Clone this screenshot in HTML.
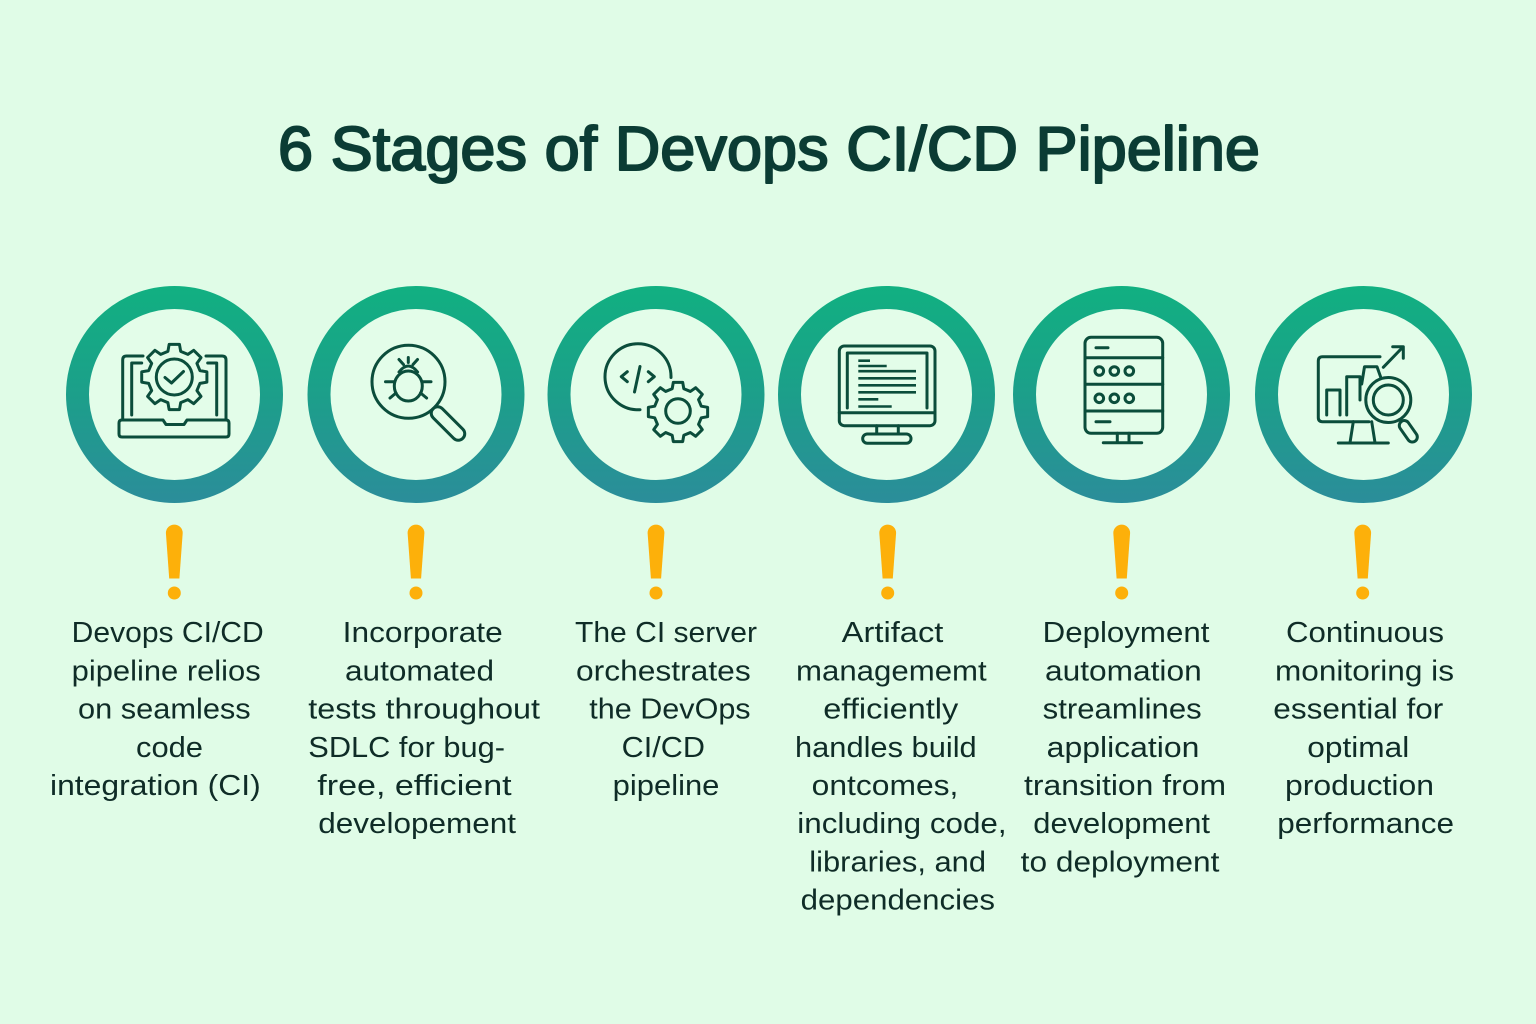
<!DOCTYPE html>
<html>
<head>
<meta charset="utf-8">
<style>
  html,body{margin:0;padding:0;background:#e0fce7;}
  body{width:1536px;height:1024px;overflow:hidden;}
  svg{display:block;}
  .t{font-family:"Liberation Sans",Arial,sans-serif;font-size:28.5px;fill:#0f2c27;}
</style>
</head>
<body>
<svg width="1536" height="1024" viewBox="0 0 1536 1024" xmlns="http://www.w3.org/2000/svg">
  <defs>
    <linearGradient id="rg" gradientUnits="userSpaceOnUse" x1="0" y1="286" x2="0" y2="503">
      <stop offset="0" stop-color="#11b081"/>
      <stop offset="0.5" stop-color="#1c9f8a"/>
      <stop offset="1" stop-color="#2b8d9a"/>
    </linearGradient>
    <path id="gear" d="M-5.81,-23.29 L-4.69,-29.63 L4.69,-29.63 L5.81,-23.29 L12.36,-20.57 L17.63,-24.27 L24.27,-17.63 L20.57,-12.36 L23.29,-5.81 L29.63,-4.69 L29.63,4.69 L23.29,5.81 L20.57,12.36 L24.27,17.63 L17.63,24.27 L12.36,20.57 L5.81,23.29 L4.69,29.63 L-4.69,29.63 L-5.81,23.29 L-12.36,20.57 L-17.63,24.27 L-24.27,17.63 L-20.57,12.36 L-23.29,5.81 L-29.63,4.69 L-29.63,-4.69 L-23.29,-5.81 L-20.57,-12.36 L-24.27,-17.63 L-17.63,-24.27 L-12.36,-20.57 Z"/>
  </defs>

  <rect width="1536" height="1024" fill="#e0fce7"/>

  <!-- Title -->
  <text x="769" y="170" text-anchor="middle" font-family="'Liberation Sans',Arial,sans-serif" font-size="62" font-weight="normal" fill="#0b3c34" stroke="#0b3c34" stroke-width="2" stroke-linejoin="round" textLength="982" lengthAdjust="spacingAndGlyphs">6 Stages of Devops CI/CD Pipeline</text>

  <!-- Rings -->
  <g fill="#e3fde9" stroke="url(#rg)" stroke-width="23">
    <circle cx="174.5" cy="394.5" r="97"/>
    <circle cx="416" cy="394.5" r="97"/>
    <circle cx="656" cy="394.5" r="97"/>
    <circle cx="886.5" cy="394.5" r="97"/>
    <circle cx="1121.5" cy="394.5" r="97"/>
    <circle cx="1363.5" cy="394.5" r="97"/>
  </g>

  <!-- Icons -->
  <g stroke="#0b4d3b" stroke-width="3" fill="none" stroke-linecap="round" stroke-linejoin="round">
    <!-- Icon 1: laptop with gear -->
    <path d="M143,356 L126.5,356 Q122.7,356 122.7,360 L122.7,420"/>
    <path d="M206,356 L222,356 Q226,356 226,360 L226,420"/>
    <path d="M141.7,363 L131.7,363 L131.7,415"/>
    <path d="M207.7,363 L216.7,363 L216.7,415"/>
    <path d="M122,420 L163,420 L166,424.5 L184,424.5 L187,420 L226,420 Q229,420 229,423 L229,434 Q229,437 226,437 L122,437 Q119,437 119,434 L119,423 Q119,420 122,420 Z"/>
    <g transform="translate(174.3,377) scale(1.1)"><use href="#gear" vector-effect="non-scaling-stroke" style="stroke-width:2.7px"/></g>
    <circle cx="174.3" cy="377" r="18"/>
    <polyline points="165,377.5 171.5,383 183.5,371.5"/>

    <!-- Icon 2: magnifier with bug -->
    <circle cx="408.5" cy="381.7" r="36.5"/>
    <rect x="-21" y="-6.5" width="42" height="13" rx="6.5" transform="translate(448,423.5) rotate(45)"/>
    <ellipse cx="408.3" cy="386" rx="14" ry="15"/>
    <path d="M399,372 Q408.3,360 417.6,372"/>
    <path d="M403.5,364.5 L399,359.5 M413,364.5 L417.5,359.5 M408.3,362.5 L408.3,357.5"/>
    <path d="M394,381.7 L385.5,381.7 M422.6,381.7 L431,381.7 M396,393 L390,398 M420.6,393 L426.6,398"/>

    <!-- Icon 3: code + gear -->
    <path d="M671,377.5 A33 33 0 1 0 640,409.7"/>
    <polyline points="627.3,371.7 621.3,376.7 627.3,381.7"/>
    <line x1="640" y1="366.5" x2="634.5" y2="392"/>
    <polyline points="648.3,371.7 654.3,376.7 648.3,381.7"/>
    <g transform="translate(678,412)"><use href="#gear"/></g>
    <circle cx="678" cy="411" r="12.3"/>

    <!-- Icon 4: monitor with text -->
    <rect x="839.3" y="346" width="95.7" height="79.7" rx="5"/>
    <path d="M847.3,408 L847.3,353 L927,353 L927,408"/>
    <line x1="839.3" y1="412.7" x2="935" y2="412.7"/>
    <g stroke-width="2.6" stroke-linecap="butt">
      <line x1="858.3" y1="360.7" x2="870" y2="360.7"/>
      <line x1="858.3" y1="366" x2="886.7" y2="366"/>
      <line x1="858.3" y1="371.2" x2="916" y2="371.2"/>
      <line x1="858.3" y1="378.3" x2="916" y2="378.3"/>
      <line x1="858.3" y1="385.3" x2="916" y2="385.3"/>
      <line x1="858.3" y1="392.3" x2="916" y2="392.3"/>
      <line x1="858.3" y1="399.3" x2="878.3" y2="399.3"/>
      <line x1="858.3" y1="406.5" x2="891.7" y2="406.5"/>
    </g>
    <path d="M876.7,425.7 L876.7,434 M898.3,425.7 L898.3,434"/>
    <rect x="862.7" y="434" width="48.3" height="9.3" rx="4.6"/>

    <!-- Icon 5: server -->
    <rect x="1085" y="337.3" width="77.7" height="96" rx="6"/>
    <path d="M1085,357.7 L1162.7,357.7 M1085,384.3 L1162.7,384.3 M1085,411 L1162.7,411"/>
    <path d="M1096,347.7 L1108,347.7 M1096,421.7 L1110,421.7"/>
    <circle cx="1099.3" cy="371" r="4.3"/>
    <circle cx="1114.3" cy="371" r="4.3"/>
    <circle cx="1129.3" cy="371" r="4.3"/>
    <circle cx="1099.3" cy="398.3" r="4.3"/>
    <circle cx="1114.3" cy="398.3" r="4.3"/>
    <circle cx="1129.3" cy="398.3" r="4.3"/>
    <path d="M1117.3,433.3 L1117.3,442.7 M1129,433.3 L1129,442.7 M1103.3,442.7 L1141.7,442.7"/>

    <!-- Icon 6: analytics monitor with magnifier -->
    <path d="M1380,356.7 L1322.5,356.7 Q1318.3,356.7 1318.3,361 L1318.3,417.5 Q1318.3,421.7 1322.5,421.7 L1369,421.7"/>
    <path d="M1326.7,415 L1326.7,390 L1340,390 L1340,415"/>
    <path d="M1346.7,415 L1346.7,376.7 L1360,376.7 L1360,400"/>
    <path d="M1361.7,384 L1364.5,366.7 L1377,366.7 L1381,378"/>
    <path d="M1383.3,367.3 L1401.7,348.3"/>
    <polyline points="1392.7,346.7 1403.3,346.7 1403.3,358.3"/>
    <circle cx="1388.3" cy="400" r="22.5"/>
    <circle cx="1388.3" cy="400" r="15"/>
    <rect x="-12" y="-5" width="24" height="10" rx="5" transform="translate(1408.3,431.3) rotate(55)"/>
    <path d="M1353.3,421.7 L1350,442.7 M1371.7,421.7 L1375,442.7 M1338.3,443 L1388.3,443"/>
  </g>

  <!-- Exclamation marks -->
  <g fill="#fdb00a">
    <path d="M165.9,533 A8.4 8.4 0 0 1 182.7,533 L179.4,578.5 L169.2,578.5 Z"/><circle cx="174.3" cy="593" r="6.5"/>
    <path d="M407.6,533 A8.4 8.4 0 0 1 424.4,533 L421.1,578.5 L410.9,578.5 Z"/><circle cx="416" cy="593" r="6.5"/>
    <path d="M647.6,533 A8.4 8.4 0 0 1 664.4,533 L661.1,578.5 L650.9,578.5 Z"/><circle cx="656" cy="593" r="6.5"/>
    <path d="M879.3,533 A8.4 8.4 0 0 1 896.1,533 L892.8,578.5 L882.6,578.5 Z"/><circle cx="887.7" cy="593" r="6.5"/>
    <path d="M1113.3,533 A8.4 8.4 0 0 1 1130.1,533 L1126.8,578.5 L1116.6,578.5 Z"/><circle cx="1121.7" cy="593" r="6.5"/>
    <path d="M1354.3,533 A8.4 8.4 0 0 1 1371.1,533 L1367.8,578.5 L1357.6,578.5 Z"/><circle cx="1362.7" cy="593" r="6.5"/>
  </g>

  <!-- Column texts -->
  <g>
    <!-- Col 1 -->
    <text class="t" x="71.7" y="642" textLength="192" lengthAdjust="spacingAndGlyphs">Devops CI/CD</text>
    <text class="t" x="71.7" y="680.3" textLength="189" lengthAdjust="spacingAndGlyphs">pipeline relios</text>
    <text class="t" x="78" y="718.5" textLength="172.7" lengthAdjust="spacingAndGlyphs">on seamless</text>
    <text class="t" x="136" y="756.8" textLength="67" lengthAdjust="spacingAndGlyphs">code</text>
    <text class="t" x="50" y="795" textLength="210.7" lengthAdjust="spacingAndGlyphs">integration (CI)</text>
    <!-- Col 2 -->
    <text class="t" x="342.7" y="642" textLength="160" lengthAdjust="spacingAndGlyphs">Incorporate</text>
    <text class="t" x="345" y="680.3" textLength="149" lengthAdjust="spacingAndGlyphs">automated</text>
    <text class="t" x="308.3" y="718.5" textLength="231.7" lengthAdjust="spacingAndGlyphs">tests throughout</text>
    <text class="t" x="308.3" y="756.8" textLength="196.7" lengthAdjust="spacingAndGlyphs">SDLC for bug-</text>
    <text class="t" x="317.3" y="795" textLength="194.3" lengthAdjust="spacingAndGlyphs">free, efficient</text>
    <text class="t" x="318.3" y="833.2" textLength="197.7" lengthAdjust="spacingAndGlyphs">developement</text>
    <!-- Col 3 -->
    <text class="t" x="575" y="642" textLength="182" lengthAdjust="spacingAndGlyphs">The CI server</text>
    <text class="t" x="576" y="680.3" textLength="174.7" lengthAdjust="spacingAndGlyphs">orchestrates</text>
    <text class="t" x="589.3" y="718.5" textLength="161.3" lengthAdjust="spacingAndGlyphs">the DevOps</text>
    <text class="t" x="621.7" y="756.8" textLength="83.3" lengthAdjust="spacingAndGlyphs">CI/CD</text>
    <text class="t" x="612.7" y="795" textLength="106.7" lengthAdjust="spacingAndGlyphs">pipeline</text>
    <!-- Col 4 -->
    <text class="t" x="841.7" y="642" textLength="101.7" lengthAdjust="spacingAndGlyphs">Artifact</text>
    <text class="t" x="796" y="680.3" textLength="190.7" lengthAdjust="spacingAndGlyphs">managememt</text>
    <text class="t" x="823.3" y="718.5" textLength="135" lengthAdjust="spacingAndGlyphs">efficiently</text>
    <text class="t" x="795" y="756.8" textLength="181.7" lengthAdjust="spacingAndGlyphs">handles build</text>
    <text class="t" x="811.7" y="795" textLength="146.7" lengthAdjust="spacingAndGlyphs">ontcomes,</text>
    <text class="t" x="797.3" y="833.2" textLength="209.3" lengthAdjust="spacingAndGlyphs">including code,</text>
    <text class="t" x="809.3" y="871.5" textLength="176.7" lengthAdjust="spacingAndGlyphs">libraries, and</text>
    <text class="t" x="800.7" y="909.7" textLength="194.3" lengthAdjust="spacingAndGlyphs">dependencies</text>
    <!-- Col 5 -->
    <text class="t" x="1042.7" y="642" textLength="166.7" lengthAdjust="spacingAndGlyphs">Deployment</text>
    <text class="t" x="1045" y="680.3" textLength="156.7" lengthAdjust="spacingAndGlyphs">automation</text>
    <text class="t" x="1042.7" y="718.5" textLength="159" lengthAdjust="spacingAndGlyphs">streamlines</text>
    <text class="t" x="1046.7" y="756.8" textLength="152.7" lengthAdjust="spacingAndGlyphs">application</text>
    <text class="t" x="1024" y="795" textLength="202" lengthAdjust="spacingAndGlyphs">transition from</text>
    <text class="t" x="1033.3" y="833.2" textLength="176.7" lengthAdjust="spacingAndGlyphs">development</text>
    <text class="t" x="1020.7" y="871.5" textLength="198.7" lengthAdjust="spacingAndGlyphs">to deployment</text>
    <!-- Col 6 -->
    <text class="t" x="1286" y="642" textLength="158" lengthAdjust="spacingAndGlyphs">Continuous</text>
    <text class="t" x="1275" y="680.3" textLength="179" lengthAdjust="spacingAndGlyphs">monitoring is</text>
    <text class="t" x="1273.3" y="718.5" textLength="170" lengthAdjust="spacingAndGlyphs">essential for</text>
    <text class="t" x="1307.3" y="756.8" textLength="102" lengthAdjust="spacingAndGlyphs">optimal</text>
    <text class="t" x="1285" y="795" textLength="149" lengthAdjust="spacingAndGlyphs">production</text>
    <text class="t" x="1277.3" y="833.2" textLength="176.7" lengthAdjust="spacingAndGlyphs">performance</text>
  </g>
</svg>
</body>
</html>
